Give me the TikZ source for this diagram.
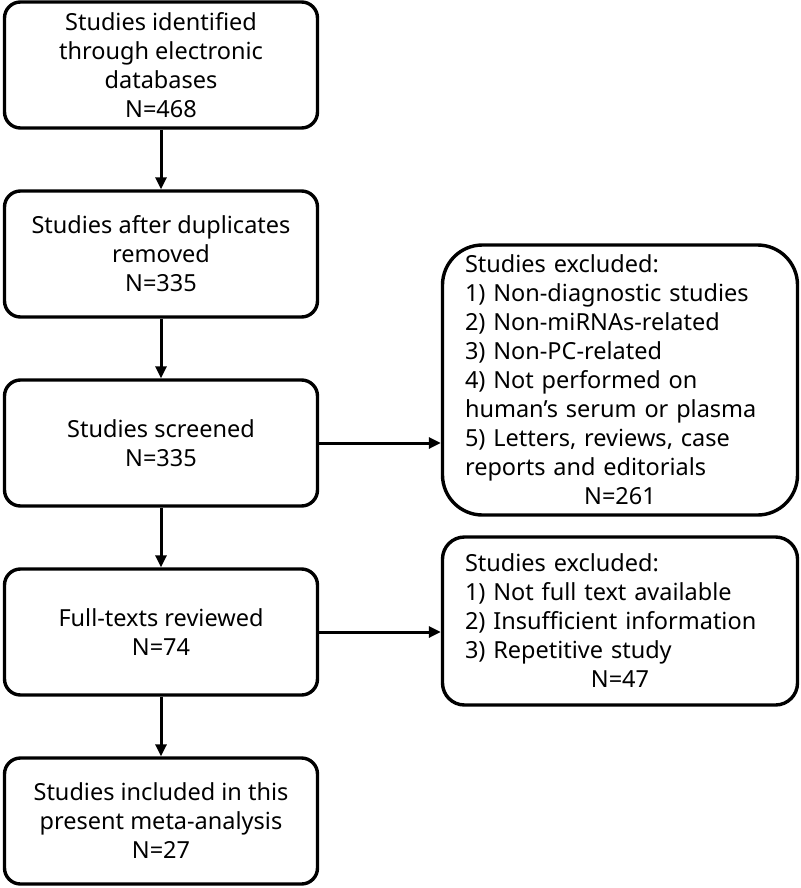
\documentclass[tikz,border=0pt]{standalone}
\usepackage{fontspec}
\setmainfont{Noto Sans}
\usetikzlibrary{arrows.meta}

\begin{document}
\begin{tikzpicture}[x=1pt, y=-1pt, node distance=189pt,
  every node/.style={align=center, font=\fontsize{23.5}{29}\selectfont},
  box/.style={draw, line width=3.4pt, rounded corners=16pt, minimum width=313pt, minimum height=126pt, inner sep=0pt},
  exbox/.style={draw, line width=3.4pt, minimum width=355pt, inner sep=0pt, text width=310pt, align=left},
  flow/.style={-{Triangle[length=12pt,width=11pt]}, line width=3pt}]
\useasboundingbox (0,0) rectangle (800,888);

\node (ident) [box] at (161,65) {Studies identified\\through electronic\\databases\\N=468};
\node (dupl) [box, below of=ident] {Studies after duplicates\\removed\\N=335};
\node (screen) [box, below of=dupl] {Studies screened\\N=335};
\node (full) [box, below of=screen] {Full-texts reviewed\\N=74};
\node (incl) [box, below of=full] {Studies included in this\\present meta-analysis\\N=27};

\node (excl1) [exbox, rounded corners=40pt, minimum height=270pt] at (620,380) {Studies excluded:\\1) Non-diagnostic studies\\2) Non-miRNAs-related\\3) Non-PC-related\\4) Not performed on\\human's serum or plasma\\5) Letters, reviews, case\\reports and editorials\\\makebox[310pt]{N=261}};
\node (excl2) [exbox, rounded corners=22pt, minimum height=168pt] at (620,621) {Studies excluded:\\1) Not full text available\\2) Insufficient information\\3) Repetitive study\\\makebox[310pt]{N=47}};

\draw[flow] (ident) -- (dupl);
\draw[flow] (dupl) -- (screen);
\draw[flow] (screen) -- (full);
\draw[flow] (full) -- (incl);
\draw[flow] (screen.east) -- (screen.east -| excl1.west);
\draw[flow] (full.east) -- (full.east -| excl2.west);
\end{tikzpicture}
\end{document}
